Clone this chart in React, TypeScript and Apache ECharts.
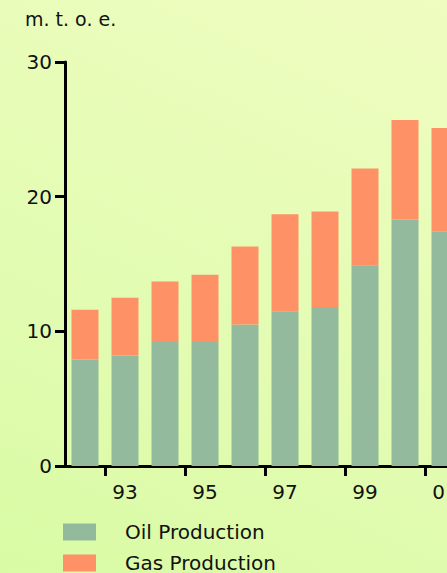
import React, { useEffect, useRef } from "react";
import * as echarts from "echarts";

const categories = ["92", "93", "94", "95", "96", "97", "98", "99", "00", "01"];
const oilProduction = [7.9, 8.2, 9.2, 9.2, 10.5, 11.5, 11.8, 14.9, 18.3, 17.4];
const gasProduction = [3.7, 4.3, 4.5, 5.0, 5.8, 7.2, 7.1, 7.2, 7.4, 7.7];
const yTicks = { min: 0, max: 30, interval: 10 };
const unitLabel = "m. t. o. e.";
const seriesNames = ["Oil Production", "Gas Production"];

const FONT = "'DejaVu Sans', sans-serif";

export default function App() {
  const ref = useRef<HTMLDivElement>(null);
  useEffect(() => {
    document.body.style.margin = "0";
    document.body.style.overflow = "hidden";
    const chart = echarts.init(ref.current!, null, { renderer: "svg" });
    const legendBase = {
      orient: "vertical",
      left: 63,
      padding: 0,
      itemWidth: 33,
      itemHeight: 17,
      icon: "rect",
      textStyle: { fontSize: 20, color: "#111", fontFamily: FONT, padding: [0, 0, 0, 24] },
    };
    chart.setOption({
      animation: false,
      textStyle: { fontFamily: FONT },
      grid: { left: 65, top: 62, bottom: 107, width: 400 },
      graphic: [
        {
          type: "text",
          left: 25,
          top: 9,
          style: { text: unitLabel, font: `19px ${FONT}`, fill: "#111" },
        },
      ],
      legend: [
        { ...legendBase, top: 522, data: [seriesNames[0]] },
        { ...legendBase, top: 553, data: [seriesNames[1]] },
      ],
      xAxis: {
        type: "category",
        data: categories,
        axisLine: { lineStyle: { color: "#000", width: 3 } },
        axisTick: { show: true, length: 10, lineStyle: { color: "#000", width: 3 } },
        axisLabel: {
          interval: (i: number) => i % 2 === 1,
          margin: 16,
          fontSize: 20,
          color: "#111",
          fontFamily: FONT,
        },
      },
      yAxis: {
        type: "value",
        min: yTicks.min,
        max: yTicks.max,
        interval: yTicks.interval,
        splitLine: { show: false },
        axisLine: { show: true, lineStyle: { color: "#000", width: 3 } },
        axisTick: { show: true, length: 10, lineStyle: { color: "#000", width: 3 } },
        axisLabel: { margin: 13, fontSize: 20, color: "#111", fontFamily: FONT },
      },
      series: [
        {
          name: seriesNames[0],
          type: "bar",
          stack: "p",
          barWidth: 27,
          data: oilProduction,
          itemStyle: { color: "#94BA9D" },
        },
        {
          name: seriesNames[1],
          type: "bar",
          stack: "p",
          barWidth: 27,
          data: gasProduction,
          itemStyle: { color: "#FF9166" },
        },
      ],
    });
    return () => chart.dispose();
  }, []);
  return (
    <div
      style={{
        position: "fixed",
        left: 0,
        top: 0,
        width: 447,
        height: 573,
        overflow: "hidden",
        background: "linear-gradient(205deg, #effdc0 0%, #e4fcb4 50%, #d9fba5 100%)",
      }}
    >
      <div ref={ref} style={{ width: 490, height: 573 }} />
    </div>
  );
}
